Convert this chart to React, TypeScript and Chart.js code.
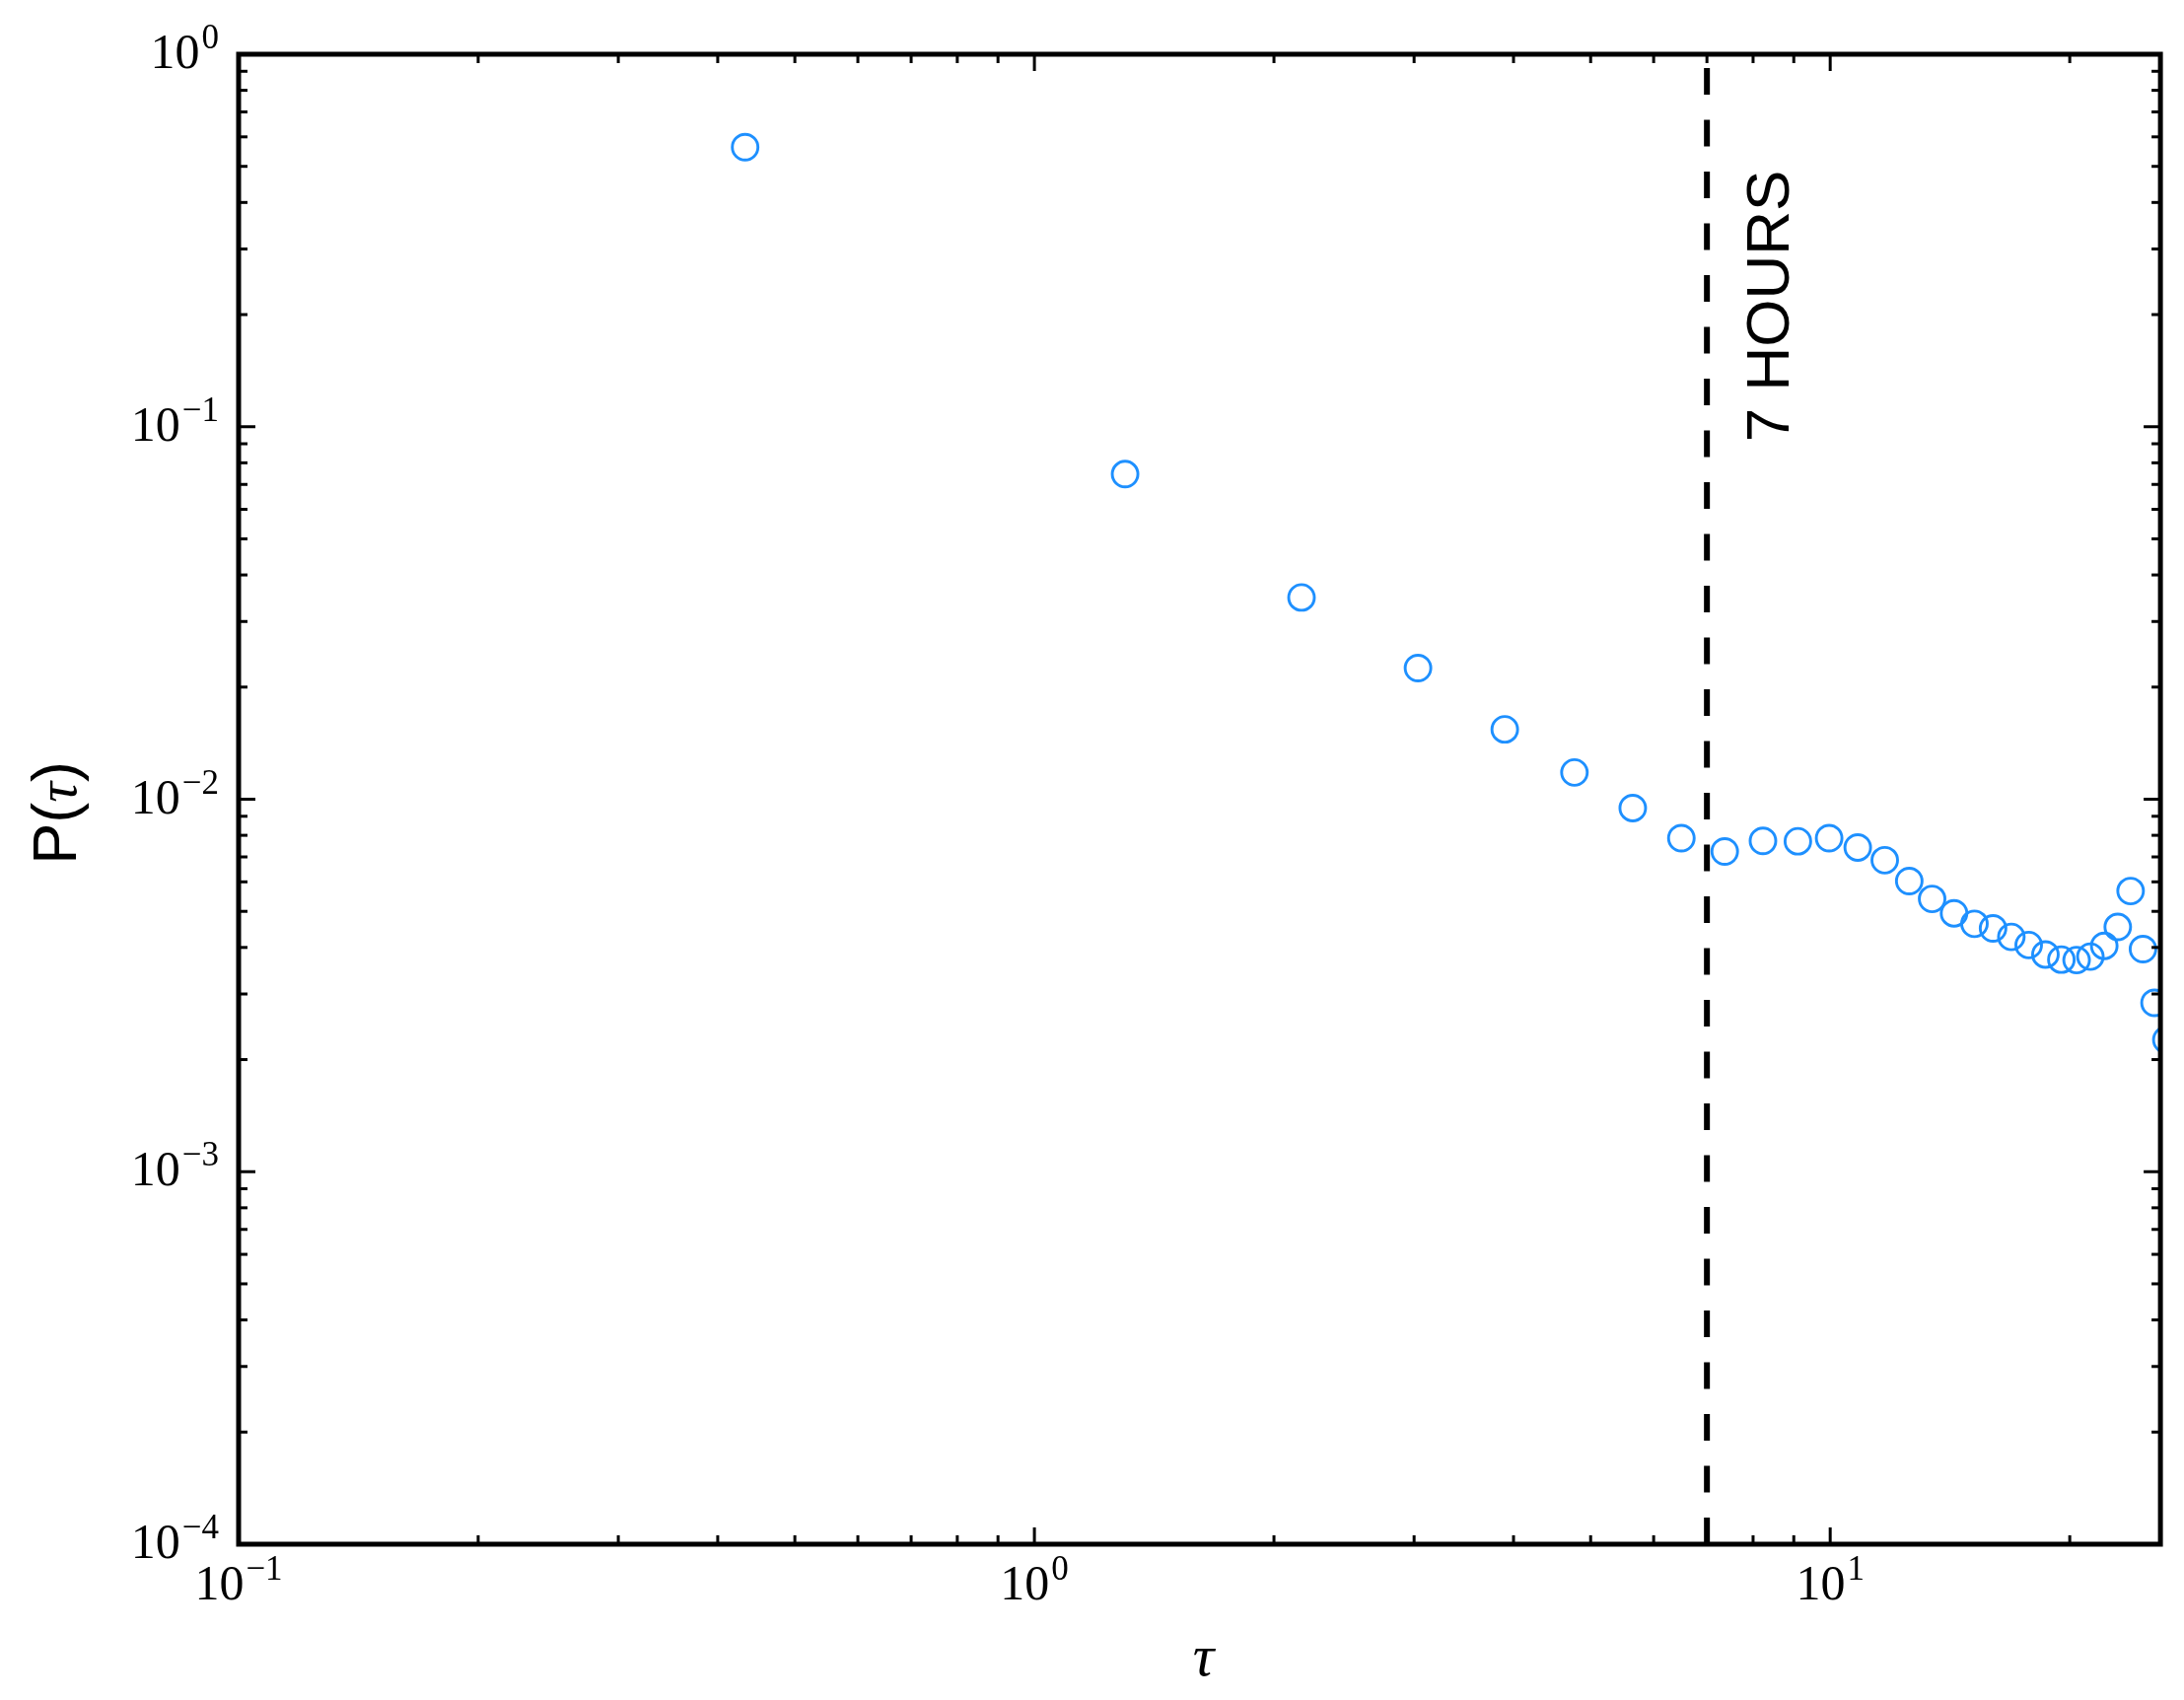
import React, { useEffect, useRef } from 'react';
import { Chart, registerables } from 'chart.js';

Chart.register(...registerables);

// ---- data (τ in hours, P(τ)) ----
const tauHours = [
  0.433, 1.3, 2.166, 3.034, 3.9, 4.771, 5.648, 6.501, 7.37, 8.232, 9.107, 9.969, 10.83,
  11.71, 12.57, 13.43, 14.31, 15.18, 16.02, 16.89, 17.76, 18.64, 19.52, 20.4, 21.23,
  22.1, 22.98, 23.85, 24.72, 25.56, 26.45,
];
const probability = [
  0.563, 0.0746, 0.0348, 0.0225, 0.0154, 0.0118, 0.00947, 0.00786, 0.00724, 0.00773,
  0.00771, 0.00786, 0.00742, 0.00686, 0.00603, 0.0054, 0.00494, 0.00463, 0.0045, 0.00427,
  0.00406, 0.00383, 0.00371, 0.0037, 0.00378, 0.00404, 0.00454, 0.00567, 0.00396,
  0.00284, 0.00226,
];

// ---- axes ----
const xMin = 0.1;
const xMax = 26;
const yMin = 1e-4;
const yMax = 1;
const xTickValues = [0.1, 1, 10];
const xTickExponents = ['\u22121', '0', '1'];
const yTickValues = [1e-4, 1e-3, 1e-2, 1e-1, 1];
const yTickExponents = ['\u22124', '\u22123', '\u22122', '\u22121', '0'];
const xMinorTicks = [0.2, 0.3, 0.4, 0.5, 0.6, 0.7, 0.8, 0.9, 2, 3, 4, 5, 6, 7, 8, 9, 20];
const yMinorTicks = [
  2e-4, 3e-4, 4e-4, 5e-4, 6e-4, 7e-4, 8e-4, 9e-4,
  2e-3, 3e-3, 4e-3, 5e-3, 6e-3, 7e-3, 8e-3, 9e-3,
  2e-2, 3e-2, 4e-2, 5e-2, 6e-2, 7e-2, 8e-2, 9e-2,
  0.2, 0.3, 0.4, 0.5, 0.6, 0.7, 0.8, 0.9,
];
const xAxisLabel = '\u03C4';
const yAxisLabelParts = ['P(', '\u03C4', ')'];

// ---- annotation ----
const markerHours = 7;
const markerText = '7 HOURS';
const markerTextX = 8.87;
const markerTextY = 0.091;

const BLUE = '#1E90FF';
const SERIF = '"Liberation Serif", "DejaVu Serif", serif';
const SANS = '"Liberation Sans", Arial, sans-serif';

function drawPower(ctx: CanvasRenderingContext2D, exp: string, x: number, baseline: number, align: 'center' | 'right') {
  const baseFont = `50px ${SERIF}`;
  const expFont = `35px ${SERIF}`;
  ctx.font = baseFont;
  const wb = ctx.measureText('10').width;
  ctx.font = expFont;
  const we = ctx.measureText(exp).width;
  const gap = 2;
  const total = wb + gap + we;
  const start = align === 'center' ? x - total / 2 : x - total;
  ctx.textAlign = 'left';
  ctx.textBaseline = 'alphabetic';
  ctx.font = baseFont;
  ctx.fillText('10', start, baseline);
  ctx.font = expFont;
  ctx.fillText(exp, start + wb + gap, baseline - 20);
}

const mplPlugin = {
  id: 'mplFrame',
  afterDraw(chart: any) {
    const { ctx, chartArea: a, scales } = chart;
    const xs = scales.x;
    const ys = scales.y;
    ctx.save();
    ctx.strokeStyle = '#000';
    ctx.fillStyle = '#000';
    ctx.lineCap = 'butt';

    const line = (x1: number, y1: number, x2: number, y2: number, w: number) => {
      ctx.lineWidth = w;
      ctx.beginPath();
      ctx.moveTo(x1, y1);
      ctx.lineTo(x2, y2);
      ctx.stroke();
    };
    const MAJOR = 17;
    const MINOR = 9;
    const TW = 3;

    xTickValues.forEach((v) => {
      const px = xs.getPixelForValue(v);
      line(px, a.bottom, px, a.bottom - MAJOR, TW);
      line(px, a.top, px, a.top + MAJOR, TW);
    });
    xMinorTicks.forEach((v) => {
      const px = xs.getPixelForValue(v);
      line(px, a.bottom, px, a.bottom - MINOR, TW);
      line(px, a.top, px, a.top + MINOR, TW);
    });
    yTickValues.forEach((v) => {
      const py = ys.getPixelForValue(v);
      line(a.left, py, a.left + MAJOR, py, TW);
      line(a.right, py, a.right - MAJOR, py, TW);
    });
    yMinorTicks.forEach((v) => {
      const py = ys.getPixelForValue(v);
      line(a.left, py, a.left + MINOR, py, TW);
      line(a.right, py, a.right - MINOR, py, TW);
    });

    // frame
    ctx.lineWidth = 5;
    ctx.lineJoin = 'miter';
    ctx.strokeRect(a.left, a.top, a.right - a.left, a.bottom - a.top);

    // tick labels
    xTickValues.forEach((v, i) => {
      drawPower(ctx, xTickExponents[i], xs.getPixelForValue(v), a.bottom + 56, 'center');
    });
    yTickValues.forEach((v, i) => {
      drawPower(ctx, yTickExponents[i], a.left - 20, ys.getPixelForValue(v) + 14, 'right');
    });

    // x axis label
    ctx.font = `italic 60px ${SERIF}`;
    ctx.textAlign = 'center';
    ctx.textBaseline = 'alphabetic';
    ctx.fillText(xAxisLabel, (a.left + a.right) / 2 + 4, a.bottom + 133);

    // y axis label (rotated)
    const fonts = [`63px ${SANS}`, `italic 58px ${SERIF}`, `63px ${SANS}`];
    const widths = yAxisLabelParts.map((t, i) => {
      ctx.font = fonts[i];
      return ctx.measureText(t).width;
    });
    const totalW = widths.reduce((s, w) => s + w, 0);
    ctx.save();
    ctx.translate(69, (a.top + a.bottom) / 2 + 14);
    ctx.rotate(-Math.PI / 2);
    ctx.textAlign = 'left';
    let cx = -totalW / 2;
    yAxisLabelParts.forEach((t, i) => {
      ctx.font = fonts[i];
      ctx.fillText(t, cx, 0);
      cx += widths[i];
    });
    ctx.restore();

    // annotation text
    ctx.save();
    ctx.translate(xs.getPixelForValue(markerTextX), ys.getPixelForValue(markerTextY));
    ctx.rotate(-Math.PI / 2);
    ctx.font = `62px ${SANS}`;
    ctx.textAlign = 'left';
    ctx.textBaseline = 'alphabetic';
    ctx.fillText(markerText, 0, 0);
    ctx.restore();

    ctx.restore();
  },
};

export default function App() {
  const canvasRef = useRef<HTMLCanvasElement | null>(null);

  useEffect(() => {
    const canvas = canvasRef.current;
    if (!canvas) return;
    const points = tauHours.map((t, i) => ({ x: t, y: probability[i] }));
    const chart = new Chart(canvas, {
      type: 'scatter',
      data: {
        datasets: [
          {
            type: 'scatter',
            label: 'P(τ)',
            data: points,
            pointStyle: 'circle',
            pointRadius: 13,
            pointHoverRadius: 13,
            borderWidth: 2.9,
            pointBorderWidth: 2.9,
            borderColor: BLUE,
            backgroundColor: 'rgba(0,0,0,0)',
            showLine: false,
            order: 2,
          } as any,
          {
            type: 'line',
            label: markerText,
            data: [
              { x: markerHours, y: yMin },
              { x: markerHours, y: yMax },
            ],
            borderColor: '#000',
            borderWidth: 6,
            borderDash: [27, 25.5],
            borderCapStyle: 'butt',
            pointRadius: 0,
            fill: false,
            order: 1,
          } as any,
        ],
      },
      options: {
        responsive: false,
        animation: false,
        events: [],
        layout: { padding: { left: 234, right: 15, top: 47, bottom: 150 } },
        plugins: {
          legend: { display: false },
          tooltip: { enabled: false },
          title: { display: false },
        },
        scales: {
          x: { type: 'logarithmic', min: xMin, max: xMax, display: false },
          y: { type: 'logarithmic', min: yMin, max: yMax, display: false },
        },
      },
      plugins: [mplPlugin],
    });
    return () => chart.destroy();
  }, []);

  return (
    <div style={{ width: 2199, height: 1708 }}>
      <canvas
        ref={canvasRef}
        width={2199}
        height={1708}
        style={{ display: 'block', width: 2199, height: 1708 }}
      />
    </div>
  );
}
